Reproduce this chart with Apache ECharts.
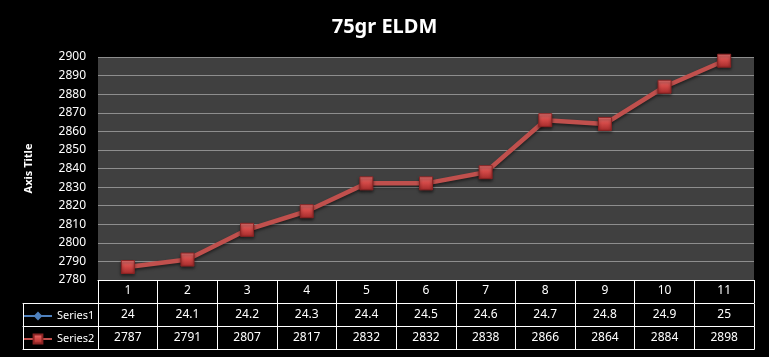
<!DOCTYPE html>
<html><head><meta charset="utf-8">
<script src="https://cdn.jsdelivr.net/npm/echarts@6/dist/echarts.min.js"></script>
<style>html,body{margin:0;padding:0;background:#000}#c{width:769px;height:357px}</style>
</head><body><div id="c"></div>
<script>
const title = '75gr ELDM';
const categories = ['1','2','3','4','5','6','7','8','9','10','11'];
const series1 = [24, 24.1, 24.2, 24.3, 24.4, 24.5, 24.6, 24.7, 24.8, 24.9, 25];
const series2 = [2787, 2791, 2807, 2817, 2832, 2832, 2838, 2866, 2864, 2884, 2898];
const yMin = 2780, yMax = 2900, yStep = 10;

const FONT = 'Noto Sans';
const chart = echarts.init(document.getElementById('c'));
const gridTop = 57, gridBottom = 77;
const rowOff = [23.5, 46.5, 69];

function tableAxis(gridIndex, offset, labels, withTicks, data) {
  return {
    type: 'category', gridIndex: gridIndex, position: 'bottom', offset: offset,
    data: data, boundaryGap: true,
    axisLine: {show: true, onZero: false, lineStyle: {color: '#fff', width: 1}},
    axisTick: {show: withTicks, length: 23, inside: false, interval: 0, lineStyle: {color: '#fff', width: 1}},
    axisLabel: labels ? {show: true, interval: 0, color: '#fff', fontFamily: FONT, fontSize: 12, margin: 5,
      formatter: (v, i) => String(labels[i])} : {show: false},
    splitLine: {show: false}
  };
}

const markerColor = new echarts.graphic.LinearGradient(0, 0, 0, 1, [
  {offset: 0, color: '#f07a78'}, {offset: 0.45, color: '#d44a48'}, {offset: 1, color: '#a32a2a'}
]);

chart.setOption({
  backgroundColor: '#000',
  animation: false,
  title: {text: title, left: 'center', top: 12,
    textStyle: {color: '#fff', fontFamily: FONT, fontWeight: 'bold', fontSize: 20}},
  legend: {
    data: ['Series1', 'Series2'], orient: 'vertical', left: 23, top: 309, padding: 0,
    itemWidth: 28, itemHeight: 11, itemGap: 9,
    textStyle: {color: '#fff', fontFamily: FONT, fontSize: 11, lineHeight: 14}
  },
  grid: [
    {left: 98, right: 15, top: gridTop, bottom: gridBottom, show: true, backgroundColor: '#404040', borderWidth: 0},
    {left: 23, width: 75, top: gridTop, bottom: gridBottom, show: false}
  ],
  xAxis: [
    tableAxis(0, 0, categories, true, categories),
    tableAxis(0, rowOff[0], series1, true, categories),
    tableAxis(0, rowOff[1], series2, true, categories),
    tableAxis(0, rowOff[2], null, false, categories),
    tableAxis(1, rowOff[0], null, true, ['']),
    tableAxis(1, rowOff[1], null, true, ['']),
    tableAxis(1, rowOff[2], null, false, [''])
  ],
  yAxis: [
    {type: 'value', gridIndex: 0, min: yMin, max: yMax, interval: yStep,
      name: 'Axis Title', nameLocation: 'middle', nameGap: 64, nameRotate: 90,
      nameTextStyle: {color: '#fff', fontFamily: FONT, fontWeight: 'bold', fontSize: 11},
      axisLine: {show: false}, axisTick: {show: false},
      axisLabel: {color: '#fff', fontFamily: FONT, fontSize: 12, margin: 12, formatter: v => String(v)},
      splitLine: {show: true, lineStyle: {color: '#8e8e8e', width: 1}}},
    {type: 'value', gridIndex: 1, show: false}
  ],
  series: [
    {name: 'Series1', type: 'line', xAxisIndex: 0, yAxisIndex: 0, data: series1, clip: true,
      symbol: 'diamond', symbolSize: 12, color: '#4f81bd',
      lineStyle: {color: '#4f81bd', width: 3}, itemStyle: {color: '#4f81bd'}},
    {name: 'Series2', type: 'line', xAxisIndex: 0, yAxisIndex: 0, data: series2, clip: false,
      symbol: 'rect', symbolSize: 13, color: '#c0504d', z: 3,
      lineStyle: {color: '#c0504d', width: 4.5, shadowColor: 'rgba(0,0,0,0.5)', shadowBlur: 3, shadowOffsetY: 2},
      itemStyle: {color: markerColor, borderColor: '#8c2424', borderWidth: 1,
        shadowColor: 'rgba(0,0,0,0.6)', shadowBlur: 3, shadowOffsetY: 2}}
  ]
});
</script>
</body></html>
